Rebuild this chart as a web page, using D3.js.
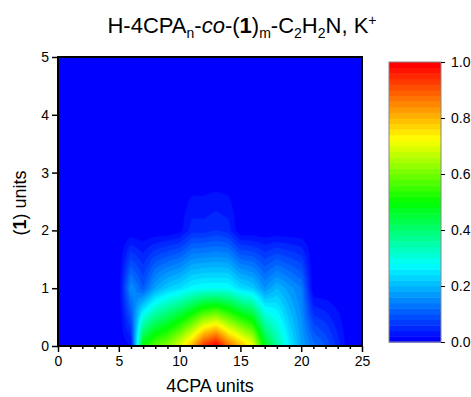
<!DOCTYPE html>
<html>
<head>
<meta charset="utf-8">
<script src="https://cdn.jsdelivr.net/npm/d3@7"></script>
<style>
  body { margin: 0; background: #fff; }
  text { font-family: "Liberation Sans", Arial, sans-serif; fill: #000; }
</style>
</head>
<body>
<svg id="chart" width="471" height="397"></svg>
<script>
// grid positions
const xUnits = d3.range(0, 26);
const yUnits = d3.range(0, 6);

// normalised intensity, one row per (1) units value, columns = 4CPA units 0..25
const rowY0 = [0, 0, 0, 0, 0, 0, 0.02, 0.5, 0.58, 0.62, 0.7, 0.8, 0.94, 1.0, 0.88, 0.8, 0.72, 0.48, 0.36, 0.26, 0.18, 0.13, 0.1, 0.05, 0, 0];
const rowY1 = [0, 0, 0, 0, 0, 0, 0.16, 0.1, 0.18, 0.22, 0.24, 0.27, 0.28, 0.28, 0.28, 0.24, 0.22, 0.16, 0.2, 0.17, 0.14, 0, 0, 0, 0, 0];
const rowY2 = [0, 0, 0, 0, 0, 0, 0, 0, 0, 0, 0.01, 0.05, 0.05, 0.06, 0.05, 0, 0, 0, 0, 0, 0, 0, 0, 0, 0, 0];
const rowY3 = [0, 0, 0, 0, 0, 0, 0, 0, 0, 0, 0, 0, 0, 0, 0, 0, 0, 0, 0, 0, 0, 0, 0, 0, 0, 0];
const rowY4 = [0, 0, 0, 0, 0, 0, 0, 0, 0, 0, 0, 0, 0, 0, 0, 0, 0, 0, 0, 0, 0, 0, 0, 0, 0, 0];
const rowY5 = [0, 0, 0, 0, 0, 0, 0, 0, 0, 0, 0, 0, 0, 0, 0, 0, 0, 0, 0, 0, 0, 0, 0, 0, 0, 0];
const rows = [rowY0, rowY1, rowY2, rowY3, rowY4, rowY5];

const xTicks = [0, 5, 10, 15, 20, 25];
const yTicks = [0, 1, 2, 3, 4, 5];
const barTicks = [0, 0.2, 0.4, 0.6, 0.8, 1.0];
const levels = d3.range(0, 50).map(i => i * 0.02);

const plot = {left: 58, right: 362, top: 57, bottom: 346};
const bar = {left: 389, right: 441, top: 62, bottom: 342};

const svg = d3.select('#chart');

const x = d3.scaleLinear().domain([0, 25]).range([plot.left, plot.right]);
const y = d3.scaleLinear().domain([0, 5]).range([plot.bottom, plot.top]);
const color = d3.scaleLinear()
    .domain([0, 0.27, 0.5, 0.73, 1])
    .range(['#0000ff', '#00ffff', '#00ff00', '#ffff00', '#ff0000']);
const levelColor = t => color(t / 0.98);

// bilinear resample of the grid so the contours come out smooth
const sx = 8, sy = 20;
const nx = (xUnits.length - 1) * sx + 1;
const ny = (yUnits.length - 1) * sy + 1;
function zAt(u, v) {
  const i0 = Math.min(Math.floor(u), xUnits.length - 2), j0 = Math.min(Math.floor(v), yUnits.length - 2);
  const fu = u - i0, fv = v - j0;
  const a = rows[j0][i0], b = rows[j0][i0 + 1], c = rows[j0 + 1][i0], d = rows[j0 + 1][i0 + 1];
  return (a * (1 - fu) + b * fu) * (1 - fv) + (c * (1 - fu) + d * fu) * fv;
}
const values = new Array(nx * ny);
for (let j = 0; j < ny; j++) {
  for (let i = 0; i < nx; i++) {
    values[j * nx + i] = zAt(i / sx, j / sy);
  }
}

const contours = d3.contours().size([nx, ny]).thresholds(levels)(values);
const proj = d3.geoTransform({
  point: function(cx, cy) {
    this.stream.point(x((cx - 0.5) / sx), y((cy - 0.5) / sy));
  }
});
const path = d3.geoPath(proj);

svg.append('clipPath').attr('id', 'clip')
  .append('rect')
  .attr('x', plot.left).attr('y', plot.top)
  .attr('width', plot.right - plot.left).attr('height', plot.bottom - plot.top);

const g = svg.append('g').attr('clip-path', 'url(#clip)');
g.append('rect')
  .attr('x', plot.left).attr('y', plot.top)
  .attr('width', plot.right - plot.left).attr('height', plot.bottom - plot.top)
  .attr('fill', levelColor(0));
g.selectAll('path')
  .data(contours)
  .join('path')
  .attr('d', path)
  .attr('fill', d => levelColor(d.value))
  .attr('stroke', d => levelColor(d.value))
  .attr('stroke-width', 0.4);

// frame
svg.append('rect')
  .attr('x', plot.left).attr('y', plot.top)
  .attr('width', plot.right - plot.left).attr('height', plot.bottom - plot.top)
  .attr('fill', 'none').attr('stroke', '#000').attr('stroke-width', 2);

// x axis
svg.append('g')
  .attr('transform', `translate(0,${plot.bottom})`)
  .call(d3.axisBottom(x).tickValues(xTicks).tickSize(6).tickPadding(4).tickFormat(d3.format('d')));
svg.append('g')
  .attr('transform', `translate(0,${plot.bottom})`)
  .call(d3.axisBottom(x).tickValues(xUnits.filter(v => v % 5 !== 0)).tickSize(3).tickFormat(''))
  .call(a => a.select('.domain').remove());

// y axis
svg.append('g')
  .attr('transform', `translate(${plot.left},0)`)
  .call(d3.axisLeft(y).tickValues(yTicks).tickSize(6).tickPadding(3).tickFormat(d3.format('d')));

svg.selectAll('.tick line').attr('stroke', '#000').attr('stroke-width', 1.5);
svg.selectAll('.domain').remove();
svg.selectAll('.tick text').attr('font-size', 14).attr('font-family', '"Liberation Sans", Arial, sans-serif');

// colour bar
const yb = d3.scaleLinear().domain([0, 1]).range([bar.bottom, bar.top]);
svg.append('g').selectAll('rect')
  .data(levels)
  .join('rect')
  .attr('x', bar.left)
  .attr('width', bar.right - bar.left)
  .attr('y', d => yb(d + 0.02))
  .attr('height', d => yb(d) - yb(d + 0.02) + 0.5)
  .attr('fill', d => levelColor(d));
svg.append('rect')
  .attr('x', bar.left).attr('y', bar.top)
  .attr('width', bar.right - bar.left).attr('height', bar.bottom - bar.top)
  .attr('fill', 'none').attr('stroke', '#888').attr('stroke-width', 1);
svg.append('g')
  .attr('transform', `translate(${bar.right},0)`)
  .call(d3.axisRight(yb).tickValues(barTicks).tickSize(4).tickPadding(6).tickFormat(d3.format('.1f')))
  .call(a => a.select('.domain').remove())
  .call(a => a.selectAll('text').attr('font-size', 14).attr('font-family', '"Liberation Sans", Arial, sans-serif'))
  .call(a => a.selectAll('line').attr('stroke', '#000'));

// title
const title = svg.append('text')
  .attr('x', 242).attr('y', 33)
  .attr('text-anchor', 'middle')
  .attr('font-size', 22);
const sub = (t, dy) => title.append('tspan').attr('font-size', 14).attr('dy', dy).text(t);
title.append('tspan').text('H-4CPA');
sub('n', 5);
title.append('tspan').attr('dy', -5).text('-');
title.append('tspan').attr('font-style', 'italic').text('co');
title.append('tspan').text('-(');
title.append('tspan').attr('font-weight', 'bold').text('1');
title.append('tspan').text(')');
sub('m', 5);
title.append('tspan').attr('dy', -5).text('-C');
sub('2', 5);
title.append('tspan').attr('dy', -5).text('H');
sub('2', 5);
title.append('tspan').attr('dy', -5).text('N, K');
sub('+', -8);

// axis titles
svg.append('text')
  .attr('x', (plot.left + plot.right) / 2).attr('y', 392)
  .attr('text-anchor', 'middle').attr('font-size', 18)
  .text('4CPA units');

const yt = svg.append('text')
  .attr('transform', 'translate(26,203) rotate(-90)')
  .attr('text-anchor', 'middle').attr('font-size', 18);
yt.append('tspan').text('(');
yt.append('tspan').attr('font-weight', 'bold').text('1');
yt.append('tspan').text(') units');
</script>
</body>
</html>
